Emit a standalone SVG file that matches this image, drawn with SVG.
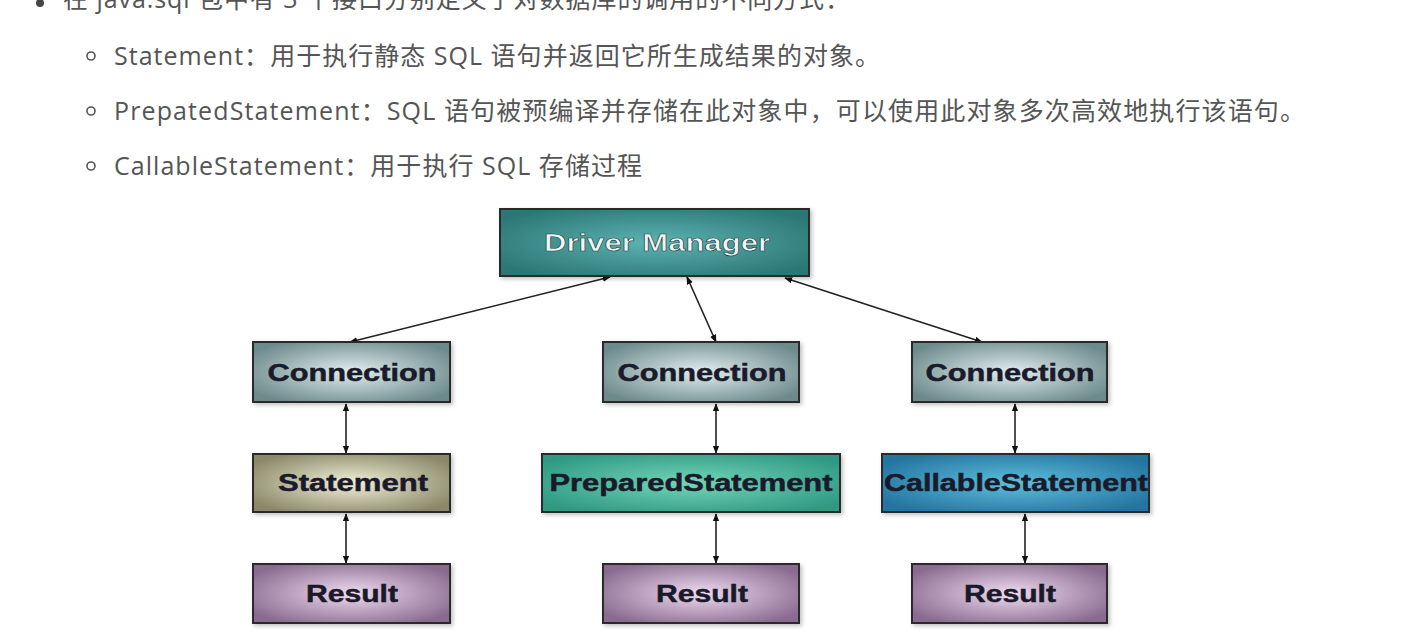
<svg xmlns="http://www.w3.org/2000/svg" width="1406" height="644" viewBox="0 0 1406 644">
<style>
.t{font-family:"Open Sans","Noto Sans CJK SC",sans-serif;font-size:25px;fill:#555}
.box{stroke:#2a2a2a;stroke-width:2}
.lbl{font-family:"Liberation Sans",Arial,sans-serif;font-weight:bold;font-size:24px;text-anchor:middle;fill:#1a1a2a;stroke:#1a1a2a;stroke-width:0.5}
.wl{fill:#eef6f6;stroke:#1f3f3f;stroke-width:0.6}
.con{stroke:#222;stroke-width:1.6;fill:none;marker-start:url(#ah);marker-end:url(#ah)}
</style>
<defs>
<marker id="ah" viewBox="0 0 10 10" refX="9" refY="5" markerWidth="8" markerHeight="8" orient="auto-start-reverse" markerUnits="userSpaceOnUse"><path d="M0,1 L10,5 L0,9 Z" fill="#111"/></marker>
<radialGradient id="gDM" cx="50%" cy="50%" r="60%"><stop offset="0" stop-color="#5db3b3"/><stop offset="1" stop-color="#2c7775"/></radialGradient>
<radialGradient id="gC" cx="50%" cy="50%" r="60%"><stop offset="0" stop-color="#e2eeee"/><stop offset="1" stop-color="#6c8a8c"/></radialGradient>
<radialGradient id="gS" cx="50%" cy="50%" r="60%"><stop offset="0" stop-color="#f2f0d8"/><stop offset="1" stop-color="#8a8868"/></radialGradient>
<radialGradient id="gP" cx="50%" cy="50%" r="60%"><stop offset="0" stop-color="#74d6b8"/><stop offset="1" stop-color="#2f9a84"/></radialGradient>
<radialGradient id="gCS" cx="50%" cy="50%" r="60%"><stop offset="0" stop-color="#5ec0dc"/><stop offset="1" stop-color="#2474a0"/></radialGradient>
<radialGradient id="gR" cx="50%" cy="50%" r="60%"><stop offset="0" stop-color="#eedcf0"/><stop offset="1" stop-color="#8a6a90"/></radialGradient>
<filter id="sh" x="-10%" y="-10%" width="120%" height="130%"><feDropShadow dx="2" dy="2" stdDeviation="2" flood-color="#000" flood-opacity="0.25"/></filter>
</defs>
<rect width="1406" height="644" fill="#fff"/>

<g id="text">
<circle cx="40" cy="3" r="4" fill="#444"/>
<text class="t" x="63" y="8" textLength="787" lengthAdjust="spacing">在 java.sql 包中有 3 个接口分别定义了对数据库的调用的不同方式：</text>
<circle cx="91" cy="56" r="4" fill="none" stroke="#555" stroke-width="1.6"/>
<text class="t" x="114" y="65" textLength="766" lengthAdjust="spacing">Statement：用于执行静态 SQL 语句并返回它所生成结果的对象。</text>
<circle cx="91" cy="111" r="4" fill="none" stroke="#555" stroke-width="1.6"/>
<text class="t" x="114" y="120" textLength="1191" lengthAdjust="spacing">PrepatedStatement：SQL 语句被预编译并存储在此对象中，可以使用此对象多次高效地执行该语句。</text>
<circle cx="91" cy="166" r="4" fill="none" stroke="#555" stroke-width="1.6"/>
<text class="t" x="114" y="175" textLength="528" lengthAdjust="spacing">CallableStatement：用于执行 SQL 存储过程</text>
</g>

<g id="connectors">
<line class="con" x1="610" y1="277" x2="350" y2="342"/>
<line class="con" x1="687" y1="277" x2="716" y2="342"/>
<line class="con" x1="785" y1="278" x2="982" y2="342"/>
<line class="con" x1="346" y1="404" x2="346" y2="453"/>
<line class="con" x1="346" y1="514" x2="346" y2="563"/>
<line class="con" x1="716" y1="404" x2="716" y2="453"/>
<line class="con" x1="716" y1="514" x2="716" y2="563"/>
<line class="con" x1="1015" y1="404" x2="1015" y2="453"/>
<line class="con" x1="1025" y1="514" x2="1025" y2="563"/>
</g>

<g id="driverManager"><rect class="box" x="500" y="209" width="309" height="67" fill="url(#gDM)" filter="url(#sh)"/><text class="lbl wl" x="657" y="251" textLength="226" lengthAdjust="spacingAndGlyphs">Driver Manager</text></g>

<g id="connection1"><rect class="box" x="253" y="342" width="197" height="60" fill="url(#gC)" filter="url(#sh)"/><text class="lbl" x="352" y="381" textLength="169" lengthAdjust="spacingAndGlyphs">Connection</text></g>
<g id="connection2"><rect class="box" x="603" y="342" width="196" height="60" fill="url(#gC)" filter="url(#sh)"/><text class="lbl" x="702" y="381" textLength="169" lengthAdjust="spacingAndGlyphs">Connection</text></g>
<g id="connection3"><rect class="box" x="912" y="342" width="195" height="60" fill="url(#gC)" filter="url(#sh)"/><text class="lbl" x="1010" y="381" textLength="169" lengthAdjust="spacingAndGlyphs">Connection</text></g>

<g id="statement"><rect class="box" x="253" y="454" width="197" height="58" fill="url(#gS)" filter="url(#sh)"/><text class="lbl" x="353" y="491" textLength="150" lengthAdjust="spacingAndGlyphs">Statement</text></g>
<g id="preparedStatement"><rect class="box" x="542" y="454" width="298" height="58" fill="url(#gP)" filter="url(#sh)"/><text class="lbl" x="691" y="491" textLength="283" lengthAdjust="spacingAndGlyphs">PreparedStatement</text></g>
<g id="callableStatement"><rect class="box" x="882" y="454" width="267" height="58" fill="url(#gCS)" filter="url(#sh)"/><text class="lbl" x="1016" y="491" textLength="264" lengthAdjust="spacingAndGlyphs">CallableStatement</text></g>

<g id="result1"><rect class="box" x="253" y="564" width="197" height="59" fill="url(#gR)" filter="url(#sh)"/><text class="lbl" x="352" y="602" textLength="92" lengthAdjust="spacingAndGlyphs">Result</text></g>
<g id="result2"><rect class="box" x="603" y="564" width="196" height="59" fill="url(#gR)" filter="url(#sh)"/><text class="lbl" x="702" y="602" textLength="92" lengthAdjust="spacingAndGlyphs">Result</text></g>
<g id="result3"><rect class="box" x="912" y="564" width="195" height="59" fill="url(#gR)" filter="url(#sh)"/><text class="lbl" x="1010" y="602" textLength="92" lengthAdjust="spacingAndGlyphs">Result</text></g>
</svg>
